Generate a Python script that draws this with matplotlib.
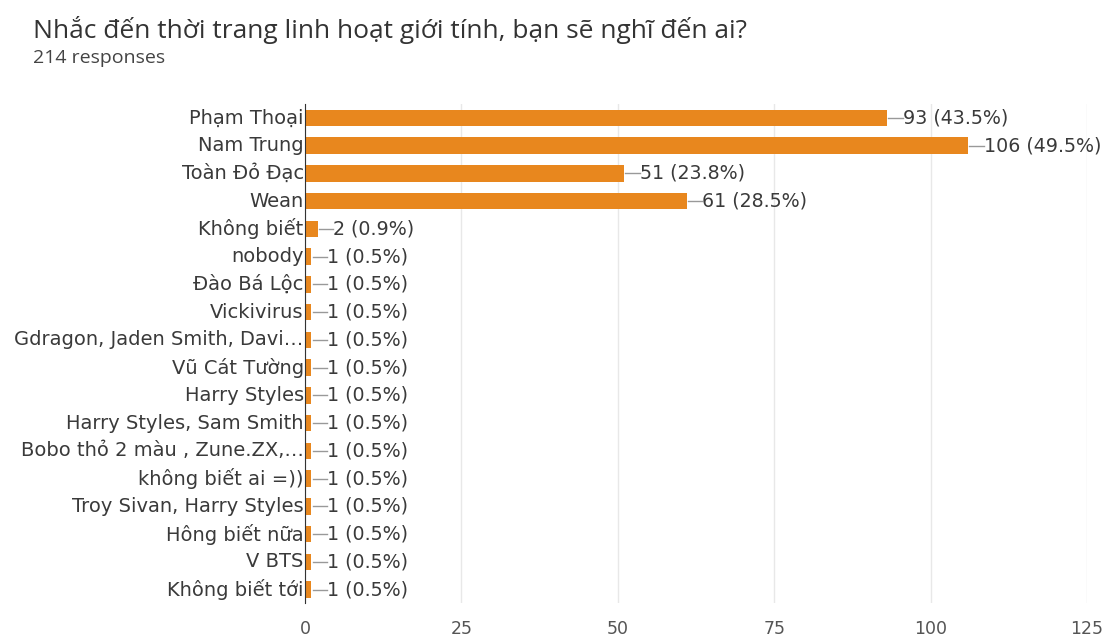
import matplotlib.pyplot as plt

title = 'Nhắc đến thời trang linh hoạt giới tính, bạn sẽ nghĩ đến ai?'
subtitle = '214 responses'
total = 214

names = ['Phạm Thoại', 'Nam Trung', 'Toàn Đỏ Đạc', 'Wean', 'Không biết', 'nobody',
         'Đào Bá Lộc', 'Vickivirus', 'Gdragon, Jaden Smith, Davi…', 'Vũ Cát Tường',
         'Harry Styles', 'Harry Styles, Sam Smith', 'Bobo thỏ 2 màu , Zune.ZX,…',
         'không biết ai =))', 'Troy Sivan, Harry Styles', 'Hông biết nữa', 'V BTS',
         'Không biết tới']
counts = [93, 106, 51, 61, 2, 1, 1, 1, 1, 1, 1, 1, 1, 1, 1, 1, 1, 1]
xticks = [0, 25, 50, 75, 100, 125]

plt.rcParams['font.family'] = ['DejaVu Sans']

fig = plt.figure(figsize=(11.08, 6.42), dpi=100)
ax = fig.add_axes([0.2753, 0.06, 0.7058, 0.778])

ypos = list(range(len(names)))
ax.barh(ypos, counts, height=0.6, color='#e8871e', zorder=2)
ax.set_ylim(len(names) - 0.5, -0.5)
ax.set_xlim(0, 125)
ax.set_xticks(xticks)
ax.set_xticklabels([str(t) for t in xticks], fontsize=12.5, color='#555555')
ax.set_yticks(ypos)
ax.set_yticklabels(names, fontsize=14, color='#3a3a3a', va='center')
ax.tick_params(length=0, pad=1)
ax.tick_params(axis='x', pad=12)
ax.grid(axis='x', color='#e8e8e8', lw=1, zorder=0)
for s in ['top', 'right', 'bottom']:
    ax.spines[s].set_visible(False)
ax.spines['left'].set_color('#333333')
ax.spines['left'].set_zorder(3)

for y, c in zip(ypos, counts):
    ax.plot([c + 0.2, c + 2.5], [y, y], color='#999999', lw=1, zorder=3)
    ax.text(c + 2.5, y, '%d (%.1f%%)' % (c, c * 100 / total), va='center', ha='left',
            fontsize=13.7, color='#3a3a3a')

fig.text(0.03, 0.953, title, fontsize=19, color='#333333', family='Open Sans', va='center')
fig.text(0.03, 0.91, subtitle, fontsize=14, color='#444444', family='Open Sans', va='center')

fig.savefig('out.png', dpi=100)
